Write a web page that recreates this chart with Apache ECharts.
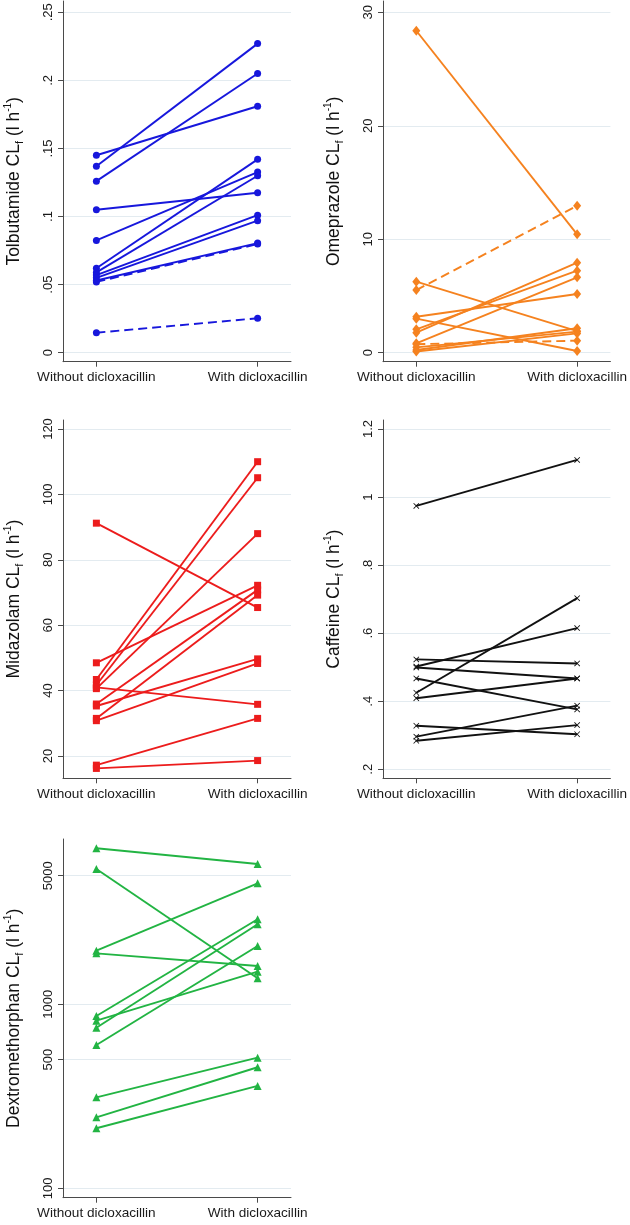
<!DOCTYPE html>
<html><head><meta charset="utf-8">
<script src="https://cdn.jsdelivr.net/npm/echarts@6.0.0/dist/echarts.min.js"></script>
<style>html,body{margin:0;padding:0;background:#fff}#c{width:630px;height:1225px}</style>
</head><body><div id="c"></div>
<script>
// ---- data ----
const xLabels = ['Without dicloxacillin', 'With dicloxacillin'];

const tolbWithout = [0.145, 0.137, 0.126, 0.105, 0.0825, 0.062, 0.059, 0.057, 0.055, 0.053, 0.052, 0.0147];
const tolbWith    = [0.181, 0.227, 0.205, 0.1175, 0.1327, 0.142, 0.130, 0.101, 0.097, 0.0805, 0.0798, 0.0253];
const tolbDashed  = [0, 0, 0, 0, 0, 0, 0, 0, 0, 0, 1, 1];
const tolbTicks = [0, 0.05, 0.1, 0.15, 0.2, 0.25];
const tolbTickLabels = ['0', '.05', '.1', '.15', '.2', '.25'];

const omeWithout = [28.37, 5.52, 6.26, 3.17, 3.0, 2.06, 1.76, 0.83, 0.75, 0.47, 0.24, 0.1];
const omeWith    = [10.43, 12.95, 1.9, 5.17, 0.15, 7.23, 7.93, 6.64, 1.06, 1.86, 2.15, 1.7];
const omeDashed  = [0, 1, 0, 0, 0, 0, 0, 0, 1, 0, 0, 0];
const omeTicks = [0, 10, 20, 30];
const omeTickLabels = ['0', '10', '20', '30'];

const midWithout = [91.2, 48.5, 43.4, 41.7, 41.0, 40.6, 35.9, 35.3, 31.5, 30.8, 17.2, 16.2];
const midWith    = [65.4, 72.2, 110.0, 105.1, 35.8, 88.0, 70.8, 49.7, 69.2, 48.3, 31.5, 18.6];
const midTicks = [20, 40, 60, 80, 100, 120];
const midTickLabels = ['20', '40', '60', '80', '100', '120'];

const cafWithout = [0.974, 0.425, 0.502, 0.523, 0.499, 0.467, 0.409, 0.328, 0.296, 0.284];
const cafWith    = [1.109, 0.703, 0.615, 0.511, 0.467, 0.376, 0.467, 0.303, 0.387, 0.330];
const cafTicks = [0.2, 0.4, 0.6, 0.8, 1, 1.2];
const cafTickLabels = ['.2', '.4', '.6', '.8', '1', '1.2'];

const dexWithout = [7046, 5439, 1957, 1892, 864, 815, 746, 601, 312, 243, 212];
const dexWith    = [5789, 1384, 4546, 1616, 2897, 1505, 2721, 2075, 513, 455, 360];
const dexTicks = [100, 500, 1000, 5000];
const dexTickLabels = ['100', '500', '1000', '5000'];

// ---- layout / style ----
const FONT = '"Liberation Sans", Arial, Helvetica, sans-serif';
const xSymbol = 'path://M0,1L1,0L5,4L9,0L10,1L6,5L10,9L9,10L5,6L1,10L0,9L4,5Z';

const panels = [
  {drug: 'Tolbutamide', w: tolbWithout, v: tolbWith, d: tolbDashed, ticks: tolbTicks, labels: tolbTickLabels,
   color: '#1717dc', symbol: 'circle', size: 7, grid: {left: 63, top: 1, width: 228, height: 360.7},
   min: -0.0066, max: 0.2583, type: 'value'},
  {drug: 'Omeprazole', w: omeWithout, v: omeWith, d: omeDashed, ticks: omeTicks, labels: omeTickLabels,
   color: '#f5821f', symbol: 'diamond', size: [8, 10], grid: {left: 383, top: 1, width: 228, height: 360.7},
   min: -0.793, max: 30.995, type: 'value'},
  {drug: 'Midazolam', w: midWithout, v: midWith, d: null, ticks: midTicks, labels: midTickLabels,
   color: '#ec1c1c', symbol: 'rect', size: 7, grid: {left: 63, top: 420, width: 228, height: 358.3},
   min: 13.18, max: 122.75, type: 'value'},
  {drug: 'Caffeine', w: cafWithout, v: cafWith, d: null, ticks: cafTicks, labels: cafTickLabels,
   color: '#111111', symbol: xSymbol, size: 6, grid: {left: 383, top: 420, width: 228, height: 358.3},
   min: 0.1736, max: 1.2264, type: 'value'},
  {drug: 'Dextromethorphan', w: dexWithout, v: dexWith, d: null, ticks: dexTicks, labels: dexTickLabels,
   color: '#22b443', symbol: 'triangle', size: 8, grid: {left: 63, top: 839, width: 228, height: 358.7},
   min: 88.9, max: 7913, type: 'log'}
];

const grids = [], xAxes = [], yAxes = [], series = [];
const axisColor = '#4a4a4a';

panels.forEach((p, i) => {
  grids.push(Object.assign({containLabel: false}, p.grid));
  xAxes.push({
    type: 'value', gridIndex: i, min: -0.207, max: 1.207,
    axisLine: {show: true, onZero: false, lineStyle: {color: axisColor, width: 1}},
    axisTick: {show: true, customValues: [0, 1], length: 5, lineStyle: {color: axisColor}},
    axisLabel: {customValues: [0, 1], formatter: v => xLabels[Math.round(v)],
      fontSize: 13.6, color: '#1a1a1a', margin: 9, fontFamily: FONT},
    splitLine: {show: false}
  });
  const y = {
    type: p.type, gridIndex: i, min: p.min, max: p.max,
    axisLine: {show: true, onZero: false, lineStyle: {color: axisColor, width: 1}},
    axisTick: {show: true, customValues: p.ticks, length: 5, lineStyle: {color: axisColor}},
    axisLabel: {customValues: p.ticks, rotate: 90, margin: 8, fontSize: 13, color: '#1a1a1a', fontFamily: FONT,
      formatter: v => {
        let best = 0, bd = Infinity;
        p.ticks.forEach((t, k) => { const dd = Math.abs(t - v); if (dd < bd) { bd = dd; best = k; } });
        return p.labels[best];
      }},
    splitLine: {show: true, lineStyle: {color: '#e3ebf0', width: 1}},
    name: '{a|' + p.drug + ' CL}{sub|f}{a| (l h}{sup|-1}{a|)}',
    nameLocation: 'middle', nameGap: 38,
    nameTextStyle: {fontFamily: FONT, fontSize: 17.5, color: '#111',
      rich: {
        a: {fontFamily: FONT, fontSize: 17.5, lineHeight: 22, color: '#111'},
        sub: {fontFamily: FONT, fontSize: 11, lineHeight: 12, verticalAlign: 'bottom', color: '#111'},
        sup: {fontFamily: FONT, fontSize: 10, lineHeight: 12, verticalAlign: 'top', color: '#111'}
      }}
  };
  if (p.type === 'log') y.logBase = 10;
  yAxes.push(y);
  p.w.forEach((val, k) => {
    const dashed = p.d && p.d[k];
    series.push({
      type: 'line', xAxisIndex: i, yAxisIndex: i,
      data: [[0, val], [1, p.v[k]]],
      symbol: p.symbol, symbolSize: p.size, showSymbol: true,
      itemStyle: {color: p.color},
      lineStyle: {color: p.color, width: 1.9, type: dashed ? [9, 5] : 'solid'},
      emphasis: {disabled: true}, silent: true, z: 3
    });
  });
});

const chart = echarts.init(document.getElementById('c'), null, {renderer: 'canvas'});
chart.setOption({animation: false, grid: grids, xAxis: xAxes, yAxis: yAxes, series: series});
</script>
</body></html>
